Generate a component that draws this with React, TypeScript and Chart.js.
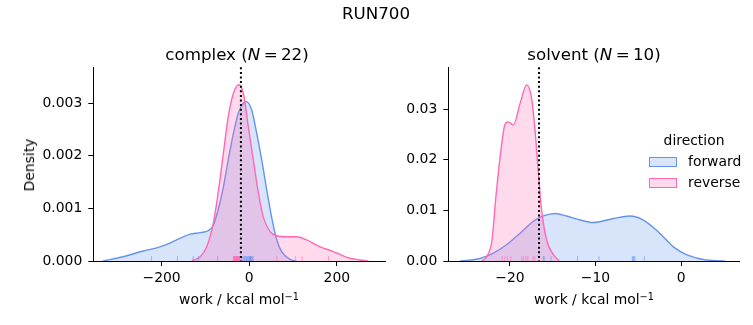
import React, { useEffect, useRef } from "react";
import { Chart, registerables } from "chart.js";

Chart.register(...registerables);

// ---------- data ----------
// complex leg: KDE curves
const complexForwardX = [-334, -288, -242, -211, -181, -158, -135, -112, -93, -82, -71, -59, -48, -36, -25, -13.5, -7, 5.7, 17, 28.6, 40, 51, 63, 74, 93, 108];
const complexForwardY = [0, 0.00008, 0.00019, 0.00025, 0.00034, 0.00043, 0.00051, 0.00054, 0.00058, 0.00068, 0.00097, 0.00141, 0.00192, 0.00243, 0.00281, 0.003, 0.00303, 0.00287, 0.00243, 0.00192, 0.00135, 0.00084, 0.0004, 0.00018, 0.00003, 0];
const complexReverseX = [-131, -112, -97, -82, -71, -59, -48, -36, -24, -13.5, -2, 9.4, 21, 32, 47.5, 63, 86, 108, 131, 162, 192, 223, 253, 272];
const complexReverseY = [0, 0.00008, 0.00027, 0.00072, 0.00129, 0.00205, 0.00274, 0.00319, 0.00335, 0.00319, 0.00255, 0.00192, 0.00129, 0.00084, 0.00056, 0.00048, 0.00046, 0.00046, 0.0004, 0.00027, 0.00018, 0.00007, 0.00002, 0];
const complexForwardRug = [-223, -164, -128, -116, -72, -17, -14, -12, -10, -8, -6, -5, -3, -1, 0, 1, 2, 3, 4, 5, 7, 9];
const complexReverseRug = [-36, -35, -34, -33, -32, -31, -30, -29, -28, -27, -26, -25, -24, -23, -22, -21, -30, -27, 63, 106, 121, 181];
const complexMarker = -19;

// solvent leg
const solventForwardX = [-25.8, -23.5, -22.0, -20.4, -18.8, -17.3, -16.1, -14.7, -13.4, -11.8, -10.3, -7.9, -6.0, -4.4, -2.5, -0.9, 0.7, 2.6, 5.1];
const solventForwardY = [0, 0.0005, 0.0015, 0.0032, 0.0055, 0.0078, 0.0089, 0.0094, 0.0089, 0.0081, 0.0076, 0.0084, 0.0089, 0.0081, 0.0055, 0.0028, 0.0012, 0.0003, 0];
const solventReverseX = [-23.3, -22.7, -22.1, -21.6, -21.0, -20.6, -20.2, -19.6, -18.8, -18.05, -17.5, -17.1, -16.7, -16.3, -15.7, -14.9, -14.2];
const solventReverseY = [0, 0.00085, 0.0041, 0.0134, 0.0226, 0.0269, 0.0275, 0.0269, 0.0312, 0.0348, 0.0325, 0.0265, 0.018, 0.0101, 0.0041, 0.0012, 0];
const solventForwardRug = [-16.1, -15.2, -12.1, -9.6, -5.7, -5.6, -5.5, -5.4, -4.3, -16.0];
const solventReverseRug = [-20.9, -20.6, -20.3, -19.9, -18.6, -18.4, -18.1, -17.9, -17.3, -17.1];
const solventMarker = -16.6;

// ticks
const complexXTicks = [-200, 0, 200];
const complexXTickLabels = ["\u2212200", "0", "200"];
const complexYTicks = [0, 0.001, 0.002, 0.003];
const complexYTickLabels = ["0.000", "0.001", "0.002", "0.003"];
const solventXTicks = [-20, -10, 0];
const solventXTickLabels = ["\u221220", "\u221210", "0"];
const solventYTicks = [0, 0.01, 0.02, 0.03];
const solventYTickLabels = ["0.00", "0.01", "0.02", "0.03"];

const seriesNames = ["forward", "reverse"];

// ---------- styles ----------
const BLUE = "#6495ED";
const PINK = "#FF69B4";
const BLUE_FILL = "rgba(100,149,237,0.25)";
const PINK_FILL = "rgba(255,105,180,0.25)";
const FONT = "'DejaVu Sans', sans-serif";
const TICK_SIZE = 13.9;

type Panel = {
  fx: number[]; fy: number[]; rx: number[]; ry: number[];
  rugF: number[]; rugR: number[]; marker: number;
  xmin: number; xmax: number; ymax: number;
  xTicks: number[]; xLabels: string[]; yTicks: number[]; yLabels: string[];
  yAxisWidth: number; padRight: number; canvasW: number;
};

function zip(xs: number[], ys: number[]) {
  return xs.map((x, i) => ({ x, y: ys[i] }));
}

function buildChart(canvas: HTMLCanvasElement, p: Panel) {
  const overlay = {
    id: "overlay",
    afterDatasetsDraw(chart: any) {
      const { ctx, chartArea, scales } = chart;
      const xs = scales.x;
      const rugH = (chartArea.bottom - chartArea.top) * 0.025;
      ctx.save();
      ctx.lineWidth = 1;
      const drawRug = (vals: number[], color: string) => {
        ctx.strokeStyle = color;
        vals.forEach((v) => {
          const px = xs.getPixelForValue(v);
          ctx.beginPath();
          ctx.moveTo(px, chartArea.bottom);
          ctx.lineTo(px, chartArea.bottom - rugH);
          ctx.stroke();
        });
      };
      drawRug(p.rugF, "rgba(100,149,237,0.6)");
      drawRug(p.rugR, "rgba(255,105,180,0.6)");
      const mx = xs.getPixelForValue(p.marker);
      ctx.strokeStyle = "#000";
      ctx.lineWidth = 2;
      ctx.setLineDash([2, 2.6]);
      ctx.beginPath();
      ctx.moveTo(mx, chartArea.top);
      ctx.lineTo(mx, chartArea.bottom);
      ctx.stroke();
      ctx.restore();
    },
  };

  const tickFont = { family: FONT, size: TICK_SIZE };
  return new Chart(canvas, {
    type: "line",
    data: {
      datasets: [
        {
          label: seriesNames[0],
          data: zip(p.fx, p.fy),
          borderColor: BLUE,
          backgroundColor: BLUE_FILL,
          borderWidth: 1.4,
          fill: "origin",
          pointRadius: 0,
          cubicInterpolationMode: "monotone",
          order: 2,
        },
        {
          label: seriesNames[1],
          data: zip(p.rx, p.ry),
          borderColor: PINK,
          backgroundColor: PINK_FILL,
          borderWidth: 1.4,
          fill: "origin",
          pointRadius: 0,
          cubicInterpolationMode: "monotone",
          order: 1,
        },
      ],
    },
    options: {
      responsive: false,
      animation: false,
      devicePixelRatio: 1,
      layout: { padding: { top: 67.3, right: p.padRight, bottom: 0, left: 0 } },
      plugins: { legend: { display: false }, tooltip: { enabled: false }, title: { display: false } },
      scales: {
        x: {
          type: "linear",
          min: p.xmin,
          max: p.xmax,
          afterBuildTicks: (s: any) => { s.ticks = p.xTicks.map((v) => ({ value: v })); },
          afterFit: (s: any) => { s.height = 64; },
          ticks: {
            callback: (_v: any, i: number) => p.xLabels[i],
            color: "#000",
            font: tickFont,
            padding: 4,
            maxRotation: 0,
            autoSkip: false,
          },
          grid: { display: true, drawOnChartArea: false, drawTicks: true, tickLength: 5, color: "#000", lineWidth: 1 },
          border: { display: true, color: "#000", width: 1 },
        },
        y: {
          type: "linear",
          min: 0,
          max: p.ymax,
          afterBuildTicks: (s: any) => { s.ticks = p.yTicks.map((v) => ({ value: v })); },
          afterFit: (s: any) => { s.width = p.yAxisWidth; },
          ticks: {
            callback: (_v: any, i: number) => p.yLabels[i],
            color: "#000",
            font: tickFont,
            padding: 6,
            autoSkip: false,
          },
          grid: { display: true, drawOnChartArea: false, drawTicks: true, tickLength: 5, color: "#000", lineWidth: 1 },
          border: { display: true, color: "#000", width: 1 },
        },
      },
    } as any,
    plugins: [overlay],
  });
}

const complexPanel: Panel = {
  fx: complexForwardX, fy: complexForwardY, rx: complexReverseX, ry: complexReverseY,
  rugF: complexForwardRug, rugR: complexReverseRug, marker: complexMarker,
  xmin: -356, xmax: 310, ymax: 0.003683,
  xTicks: complexXTicks, xLabels: complexXTickLabels, yTicks: complexYTicks, yLabels: complexYTickLabels,
  yAxisWidth: 93.3, padRight: 5, canvasW: 390,
};

const solventPanel: Panel = {
  fx: solventForwardX, fy: solventForwardY, rx: solventReverseX, ry: solventReverseY,
  rugF: solventForwardRug, rugR: solventReverseRug, marker: solventMarker,
  xmin: -27.2, xmax: 6.8, ymax: 0.03828,
  xTicks: solventXTicks, xLabels: solventXTickLabels, yTicks: solventYTicks, yLabels: solventYTickLabels,
  yAxisWidth: 53.3, padRight: 13.7, canvasW: 358,
};

function Text({ x, y, size, children, rotate }: any) {
  return (
    <div
      style={{
        position: "absolute",
        left: x,
        top: y,
        transform: `translate(-50%, -50%)${rotate ? " rotate(-90deg)" : ""}`,
        fontFamily: FONT,
        fontSize: size,
        color: "#000",
        whiteSpace: "nowrap",
        lineHeight: 1,
      }}
    >
      {children}
    </div>
  );
}

const xLabel = (
  <>
    work / kcal mol<sup style={{ fontSize: "0.7em", verticalAlign: "0.45em", lineHeight: 0 }}>{"\u22121"}</sup>
  </>
);

export default function App() {
  const leftRef = useRef<HTMLCanvasElement>(null);
  const rightRef = useRef<HTMLCanvasElement>(null);

  useEffect(() => {
    const a = buildChart(leftRef.current!, complexPanel);
    const b = buildChart(rightRef.current!, solventPanel);
    return () => {
      a.destroy();
      b.destroy();
    };
  }, []);

  return (
    <div style={{ position: "absolute", left: 0, top: 0, width: 753, height: 325, background: "#fff", overflow: "hidden" }}>
      <canvas ref={leftRef} width={390} height={325} style={{ position: "absolute", left: 0, top: 0, width: 390, height: 325 }} />
      <canvas ref={rightRef} width={358} height={325} style={{ position: "absolute", left: 395, top: 0, width: 358, height: 325 }} />

      <Text x={376} y={13} size={16.7}>RUN700</Text>
      <Text x={237} y={54} size={16.7}>
        complex (<i>N</i>{"\u2009=\u2009"}22)
      </Text>
      <Text x={594} y={54} size={16.7}>
        solvent (<i>N</i>{"\u2009=\u2009"}10)
      </Text>
      <Text x={30} y={165} size={13.9} rotate>Density</Text>
      <Text x={239} y={300} size={13.9}>{xLabel}</Text>
      <Text x={594} y={300} size={13.9}>{xLabel}</Text>

      {/* legend */}
      <Text x={694} y={141} size={13.9}>direction</Text>
      <div style={{ position: "absolute", left: 649, top: 156.7, width: 27.7, height: 10.6, boxSizing: "border-box", background: BLUE_FILL, border: `1.4px solid ${BLUE}` }} />
      <div style={{ position: "absolute", left: 649, top: 177.7, width: 27.7, height: 10.6, boxSizing: "border-box", background: PINK_FILL, border: `1.4px solid ${PINK}` }} />
      <div style={{ position: "absolute", left: 688, top: 162, transform: "translateY(-50%)", fontFamily: FONT, fontSize: 13.9, lineHeight: 1 }}>{seriesNames[0]}</div>
      <div style={{ position: "absolute", left: 688, top: 183, transform: "translateY(-50%)", fontFamily: FONT, fontSize: 13.9, lineHeight: 1 }}>{seriesNames[1]}</div>
    </div>
  );
}
